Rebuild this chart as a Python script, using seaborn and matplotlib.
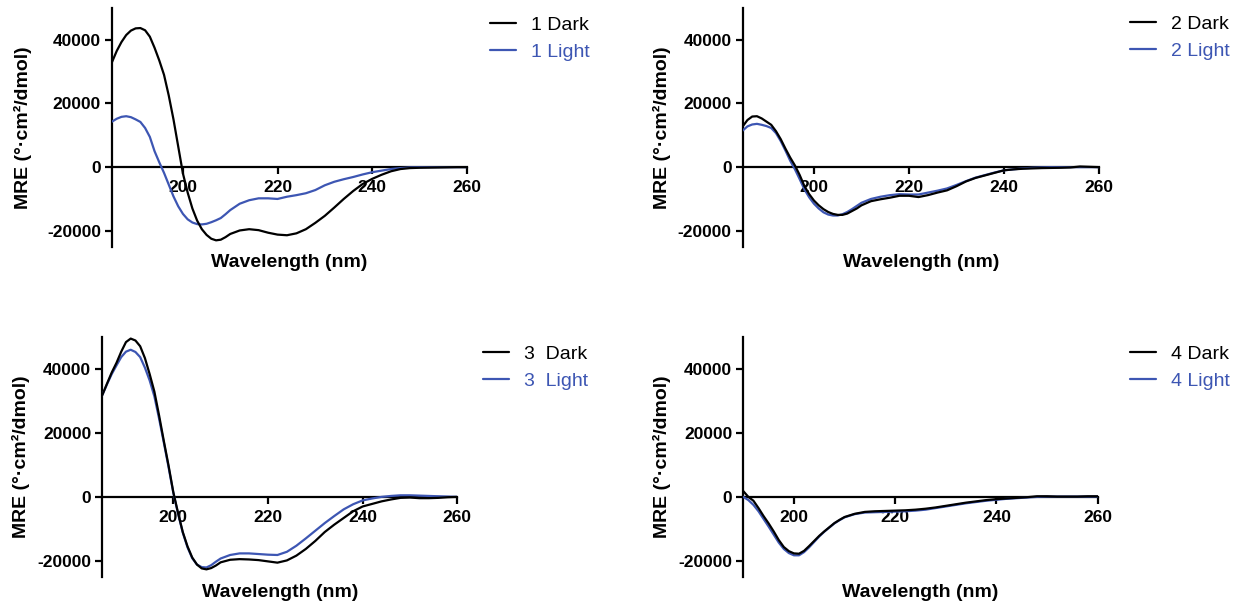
import matplotlib
matplotlib.use("Agg")
import matplotlib.pyplot as plt
import pandas as pd
import seaborn as sns
from matplotlib.lines import Line2D

# ---------------- data ----------------
wl_a = [185, 186, 187, 188, 189, 190, 191, 192, 193, 194, 195, 196, 197, 198, 199,
        200, 201, 202, 203, 204, 205, 206, 207, 208, 209, 210, 212, 214, 216, 218,
        220, 222, 224, 226, 228, 230, 232, 234, 236, 238, 240, 242, 244, 246, 248,
        250, 252, 254, 256, 258, 260]
wl_b = [190, 191, 192, 193, 194, 195, 196, 197, 198, 199,
        200, 201, 202, 203, 204, 205, 206, 207, 208, 209, 210, 212, 214, 216, 218,
        220, 222, 224, 226, 228, 230, 232, 234, 236, 238, 240, 242, 244, 246, 248,
        250, 252, 254, 256, 258, 260]

dark1 = [33000, 36500, 39300, 41500, 42900, 43600, 43700, 43000, 41000, 37500, 33500,
         29000, 22500, 15000, 6500, -2000, -8000, -13000, -16800, -19500, -21300,
         -22500, -23000, -22800, -22000, -21000, -19900, -19500, -19800, -20600,
         -21200, -21400, -20800, -19500, -17500, -15300, -12700, -10000, -7500,
         -5300, -3700, -2400, -1300, -600, -300, -200, -150, -100, -50, 0, 0]
light1 = [14300, 15200, 15800, 16000, 15700, 15000, 14200, 12300, 9500, 5000, 1500,
          -1800, -5500, -9200, -12300, -14700, -16400, -17400, -17900, -18000, -17800,
          -17300, -16700, -16000, -14800, -13500, -11500, -10400, -9800, -9800,
          -10000, -9300, -8800, -8200, -7200, -5700, -4600, -3800, -3100, -2300,
          -1600, -1100, -600, -300, -100, 0, 0, 0, 0, 0, 0]

dark2 = [12800, 14800, 15900, 16000, 15300, 14300, 13300, 11300, 8800, 5800, 3000,
         500, -2500, -6000, -8500, -10500, -12000, -13200, -14100, -14700, -15000,
         -15000, -14600, -13800, -13000, -12000, -10700, -10100, -9600, -9000,
         -9000, -9400, -8800, -8000, -7300, -6000, -4500, -3400, -2600, -1800,
         -1000, -700, -500, -400, -300, -250, -200, -100, 200, 100, 0]
light2 = [11500, 12800, 13400, 13600, 13300, 12900, 12300, 10700, 8200, 5200, 2000,
          -700, -3800, -7000, -9500, -11500, -13000, -14200, -14900, -15200, -15200,
          -14800, -14100, -13200, -12200, -11200, -10000, -9300, -8800, -8500,
          -8600, -8600, -8000, -7400, -6700, -5600, -4400, -3300, -2500, -1700,
          -1000, -700, -400, -200, -100, 0, 0, 0, 0, 0, 0]

dark3 = [31900, 35500, 39000, 42000, 45500, 48500, 49600, 49000, 47200, 43500, 38500,
         33000, 25500, 17500, 9800, 1500, -5000, -11000, -15500, -19000, -21200,
         -22400, -22700, -22300, -21500, -20500, -19700, -19500, -19600, -19800,
         -20200, -20600, -19900, -18400, -16300, -13800, -11000, -8700, -6600,
         -4500, -3000, -2200, -1400, -800, -300, -200, -400, -400, -300, -100, 0]
light3 = [31900, 35300, 38500, 41200, 43800, 45500, 46100, 45400, 43800, 40500, 36500,
          31500, 24500, 17000, 9300, 1300, -5200, -11200, -15800, -19200, -21200,
          -22000, -22100, -21400, -20300, -19300, -18200, -17700, -17700, -17900,
          -18100, -18200, -17200, -15300, -13000, -10600, -8200, -6000, -3900,
          -2300, -1100, -500, 0, 300, 500, 500, 400, 300, 200, 100, 0]

dark4 = [1800, 0, -1200, -3500, -6000, -8300, -10800, -13500, -15700, -17000,
         -17700, -17800, -16900, -15400, -13800, -12200, -10800, -9500, -8200, -7200,
         -6300, -5300, -4700, -4500, -4400, -4300, -4200, -4000, -3700, -3300,
         -2800, -2300, -1800, -1400, -1000, -700, -500, -300, -100, 200,
         200, 100, 100, 100, 200, 200]
light4 = [0, -1000, -2500, -4500, -6900, -9300, -11800, -14300, -16300, -17600,
          -18300, -18300, -17300, -15800, -14100, -12400, -10900, -9600, -8300, -7300,
          -6400, -5400, -4900, -4800, -4700, -4600, -4500, -4300, -4000, -3500,
          -3000, -2500, -2000, -1600, -1200, -900, -600, -400, -200, 0,
          100, 100, 100, 100, 100, 100]

dark_labels = ["1 Dark", "2 Dark", "3  Dark", "4 Dark"]
light_labels = ["1 Light", "2 Light", "3  Light", "4 Light"]
x_ticks = [200, 220, 240, 260]
y_ticks = [-20000, 0, 20000, 40000]
x_title = "Wavelength (nm)"
y_title = "MRE (°·cm²/dmol)"

panels = [
    (wl_a, dark1, light1, 185),
    (wl_a, dark2, light2, 185),
    (wl_a, dark3, light3, 185),
    (wl_b, dark4, light4, 190),
]

# ---------------- style ----------------
sns.set_style("ticks")
plt.rcParams["font.family"] = ["Liberation Sans", "DejaVu Sans"]
plt.rcParams["text.color"] = "black"
plt.rcParams["axes.labelcolor"] = "black"
plt.rcParams["xtick.color"] = "black"
plt.rcParams["ytick.color"] = "black"
plt.rcParams["axes.edgecolor"] = "black"

BLUE = "#3d56b3"
W, H = 1234, 609
fig = plt.figure(figsize=(W / 100, H / 100), dpi=100)

# axes boxes in pixels: left, right, top, bottom
boxes = [
    (112.0, 466.7, 8.0, 246.7),
    (742.7, 1099.0, 8.0, 246.7),
    (102.3, 457.3, 337.3, 576.7),
    (743.3, 1097.7, 337.3, 576.7),
]
ylabel_right = [31.7, 671.0, 30.0, 670.6]
legend_pos = [(490, 16.0), (1130, 15.5), (483, 345.0), (1130, 345.0)]

for i, (wl, dk, lt, xmin) in enumerate(panels):
    l, r, t, b = boxes[i]
    ax = fig.add_axes([l / W, 1 - b / H, (r - l) / W, (b - t) / H])
    n = len(wl)
    df = pd.DataFrame({
        "Wavelength": list(wl) + list(wl),
        "MRE": list(lt) + list(dk),
        "Sample": [light_labels[i]] * n + [dark_labels[i]] * n,
    })
    sns.lineplot(data=df, x="Wavelength", y="MRE", hue="Sample",
                 hue_order=[light_labels[i], dark_labels[i]],
                 palette=[BLUE, "black"], linewidth=1.6, estimator=None,
                 legend=False, ax=ax)
    for ln in ax.lines:
        ln.set_zorder(3)
        ln.set_solid_joinstyle("round")

    ax.set_xlim(xmin, 260)
    ax.set_ylim(-25000, 50000)
    sns.despine(ax=ax)
    ax.spines["bottom"].set_position(("data", 0))
    for s in ("left", "bottom"):
        ax.spines[s].set_linewidth(1.6)
        ax.spines[s].set_color("black")
    ax.set_xticks(x_ticks)
    ax.set_yticks(y_ticks)
    ax.set_xticklabels([str(v) for v in x_ticks], fontweight="bold")
    ax.set_yticklabels([str(v) for v in y_ticks], fontweight="bold")
    ax.tick_params(axis="both", direction="out", length=5, width=1.6,
                   labelsize=12.5, color="black", labelcolor="black")
    ax.tick_params(axis="y", pad=3)
    ax.tick_params(axis="x", pad=4.5)

    ax.set_xlabel(x_title, fontsize=14, fontweight="bold", color="black")
    ax.set_ylabel(y_title, fontsize=14, fontweight="bold", color="black")
    ax.xaxis.set_label_coords(0.5, -0.03)
    ax.yaxis.set_label_coords((ylabel_right[i] - l) / (r - l), 0.5)

    handles = [Line2D([], [], color="black", lw=1.6),
               Line2D([], [], color=BLUE, lw=1.6)]
    lx, ly = legend_pos[i]
    leg = ax.legend(handles, [dark_labels[i], light_labels[i]],
                    loc="upper left", bbox_to_anchor=(lx / W, 1 - ly / H),
                    bbox_transform=fig.transFigure, frameon=False,
                    fontsize=14, handlelength=1.34, handletextpad=0.76,
                    labelspacing=0.48, borderpad=0, borderaxespad=0)
    leg.get_texts()[0].set_color("black")
    leg.get_texts()[1].set_color(BLUE)

fig.savefig("out.png", dpi=100)
